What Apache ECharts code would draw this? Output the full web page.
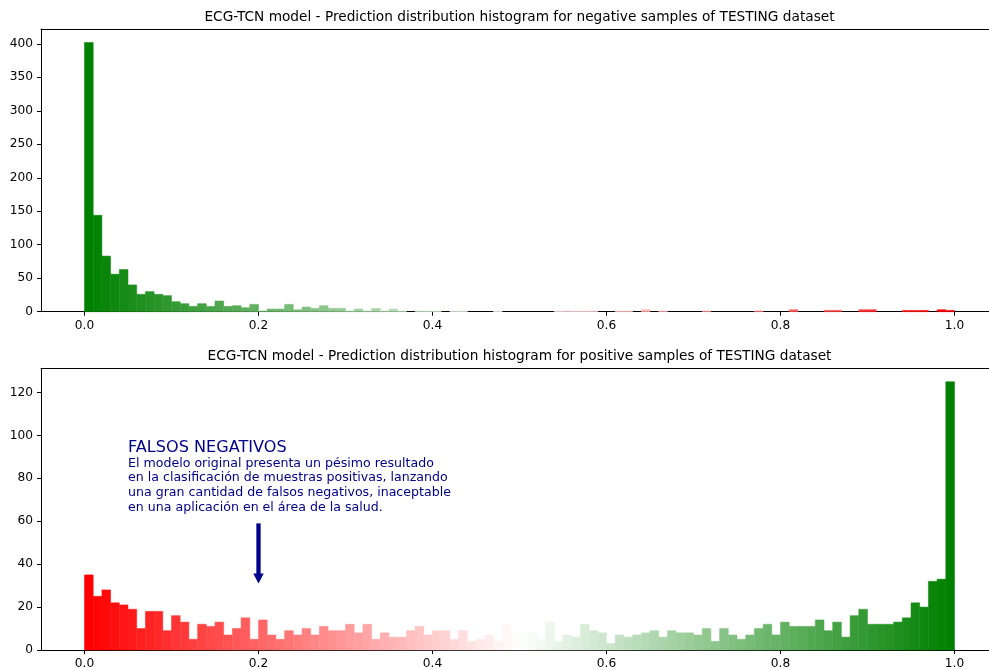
<!DOCTYPE html>
<html>
<head>
<meta charset="utf-8">
<script src="https://cdn.jsdelivr.net/npm/echarts@6/dist/echarts.min.js"></script>
<style>html,body{margin:0;padding:0;background:#fff}#c{width:989px;height:670px}</style>
</head>
<body>
<div id="c"></div>
<script>
// ---- data ----
const binCount = 100;
const negCounts = [402,144,83,56,63,40,26,30,26,24,15,12,8,12,8,16,8,9,6,11,
  1,4,4,11,3,7,5,9,5,5,1,4,1,5,1,4,1,0,1,1,
  1,0,1,1,0,0,0,1,0,0,0,0,0,0,1,2,1,1,1,0,
  0,1,1,0,3,0,1,0,0,0,0,1,0,0,0,0,0,1,0,0,
  0,3,0,0,0,2,2,0,0,3,3,0,0,0,2,2,2,0,3,2];
const posCounts = [35,25,28,22,21,19,10,18,18,9,16,13,5,12,11,13,7,10,15,5,
  14,7,5,9,7,10,7,11,9,9,12,8,12,5,8,6,6,9,11,7,
  9,9,5,9,4,5,7,4,12,8,7,8,5,13,4,7,6,12,9,8,
  3,7,6,7,8,9,6,9,8,8,7,10,4,10,7,5,7,10,12,7,
  13,11,11,11,14,9,13,6,16,19,12,12,12,13,15,22,20,32,33,125];
const xTicks = [0, 0.2, 0.4, 0.6, 0.8, 1.0];
const negYTicks = [0, 50, 100, 150, 200, 250, 300, 350, 400];
const posYTicks = [0, 20, 40, 60, 80, 100, 120];
const titles = [
  'ECG-TCN model - Prediction distribution histogram for negative samples of TESTING dataset',
  'ECG-TCN model - Prediction distribution histogram for positive samples of TESTING dataset'
];
const noteTitle = 'FALSOS NEGATIVOS';
const noteLines = [
  'El modelo original presenta un pésimo resultado',
  'en la clasificación de muestras positivas, lanzando',
  'una gran cantidad de falsos negativos, inaceptable',
  'en una aplicación en el área de la salud.'
];
const noteAnchor = [0.05, 62];
const arrowFrom = [0.2, 59];
const arrowTo = [0.2, 31];

// ---- styling helpers ----
const FONT = 'DejaVu Sans';
const RED = [255, 0, 0], WHITE = [255, 255, 255], GREEN = [0, 128, 0];
const GRID_LEFT = 41, GRID_W = 948;            // right spine lies beyond the image edge
const X_MIN = -0.05, PX_PER_UNIT = 870;
const X_MAX = X_MIN + GRID_W / PX_PER_UNIT;
function mix(a, b, t) {
  return 'rgb(' + a.map((v, k) => Math.round(v + (b[k] - v) * t)).join(',') + ')';
}
function cmap(t, lo, hi) { // lo -> white -> hi
  return t < 0.5 ? mix(lo, WHITE, t * 2) : mix(WHITE, hi, (t - 0.5) * 2);
}
function binData(counts) {
  return counts.map((v, i) => [i / binCount, (i + 1) / binCount, v, i]);
}
function histSeries(counts, idx, lo, hi) {
  return {
    type: 'custom', xAxisIndex: idx * 2, yAxisIndex: idx,
    encode: { x: [0, 1], y: 2 },
    data: binData(counts),
    renderItem: function (params, api) {
      const v = api.value(2);
      if (!v) return null;
      const p0 = api.coord([api.value(0), 0]);
      const p1 = api.coord([api.value(1), v]);
      const i = api.value(3);
      const c = cmap(i / (binCount - 1), lo, hi);
      return {
        type: 'rect',
        shape: { x: p0[0], y: p1[1], width: p1[0] - p0[0], height: p0[1] - p1[1] },
        style: { fill: c, stroke: c, lineWidth: 0.5 }
      };
    }
  };
}
const AXIS_LINE = { show: true, onZero: false, lineStyle: { color: '#000', width: 1 } };
function xAxisCfg(idx) {
  return {
    type: 'value', gridIndex: idx, min: X_MIN, max: X_MAX, position: 'bottom',
    axisLine: AXIS_LINE,
    splitLine: { show: false },
    axisTick: { show: true, length: 4, lineStyle: { color: '#000', width: 1 }, customValues: xTicks },
    axisLabel: { customValues: xTicks, color: '#000', fontFamily: FONT, fontSize: 12.2, margin: 8,
      formatter: v => v.toFixed(1) }
  };
}
function xTopCfg(idx) {
  return {
    type: 'value', gridIndex: idx, min: X_MIN, max: X_MAX, position: 'top',
    axisLine: AXIS_LINE, splitLine: { show: false },
    axisTick: { show: false }, axisLabel: { show: false }
  };
}
function yAxisCfg(idx, ticks, maxVal) {
  return {
    type: 'value', gridIndex: idx, min: 0, max: maxVal * 1.05, position: 'left',
    axisLine: AXIS_LINE,
    splitLine: { show: false },
    axisTick: { show: true, length: 4, lineStyle: { color: '#000', width: 1 }, customValues: ticks },
    axisLabel: { customValues: ticks, color: '#000', fontFamily: FONT, fontSize: 12.2, margin: 8 }
  };
}

const chart = echarts.init(document.getElementById('c'), null, { renderer: 'canvas' });
chart.setOption({
  animation: false,
  backgroundColor: '#fff',
  grid: [
    { left: GRID_LEFT, top: 29, width: GRID_W, height: 282.7, containLabel: false },
    { left: GRID_LEFT, top: 368.3, width: GRID_W, height: 282, containLabel: false }
  ],
  xAxis: [xAxisCfg(0), xTopCfg(0), xAxisCfg(1), xTopCfg(1)],
  yAxis: [yAxisCfg(0, negYTicks, Math.max(...negCounts)), yAxisCfg(1, posYTicks, Math.max(...posCounts))],
  series: [
    histSeries(negCounts, 0, GREEN, RED),
    histSeries(posCounts, 1, RED, GREEN)
  ]
});

// ---- titles, annotation and arrow placed through the axes ----
const titleX = GRID_LEFT + (1.05 - X_MIN) * PX_PER_UNIT / 2;
const navy = '#00008b';
const g = [];
g.push({ type: 'text', x: titleX, y: 17.5, style: { text: titles[0], fontFamily: FONT, fontSize: 13.7,
  fill: '#000', textAlign: 'center', textVerticalAlign: 'middle' } });
g.push({ type: 'text', x: titleX, y: 356.5, style: { text: titles[1], fontFamily: FONT, fontSize: 13.7,
  fill: '#000', textAlign: 'center', textVerticalAlign: 'middle' } });

const a = chart.convertToPixel({ gridIndex: 1 }, noteAnchor);
g.push({ type: 'text', x: a[0], y: a[1] - 69, style: { text: noteTitle, fontFamily: FONT, fontSize: 16.1,
  fill: navy, textAlign: 'left', textVerticalAlign: 'middle' } });
noteLines.forEach((t, k) => {
  g.push({ type: 'text', x: a[0], y: a[1] - 53.5 + k * 14.7, style: { text: t, fontFamily: FONT, fontSize: 12.6,
    fill: navy, textAlign: 'left', textVerticalAlign: 'middle' } });
});
const pf = chart.convertToPixel({ gridIndex: 1 }, arrowFrom);
const pt = chart.convertToPixel({ gridIndex: 1 }, arrowTo);
const headLen = 10, headW = 10.5, shaftW = 4.3;
g.push({ type: 'rect', shape: { x: pf[0] - shaftW / 2, y: pf[1], width: shaftW, height: pt[1] - pf[1] - headLen + 1 },
  style: { fill: navy } });
g.push({ type: 'polygon', shape: { points: [[pt[0] - headW / 2, pt[1] - headLen], [pt[0] + headW / 2, pt[1] - headLen], [pt[0], pt[1]]] },
  style: { fill: navy } });
chart.setOption({ graphic: g });
</script>
</body>
</html>
